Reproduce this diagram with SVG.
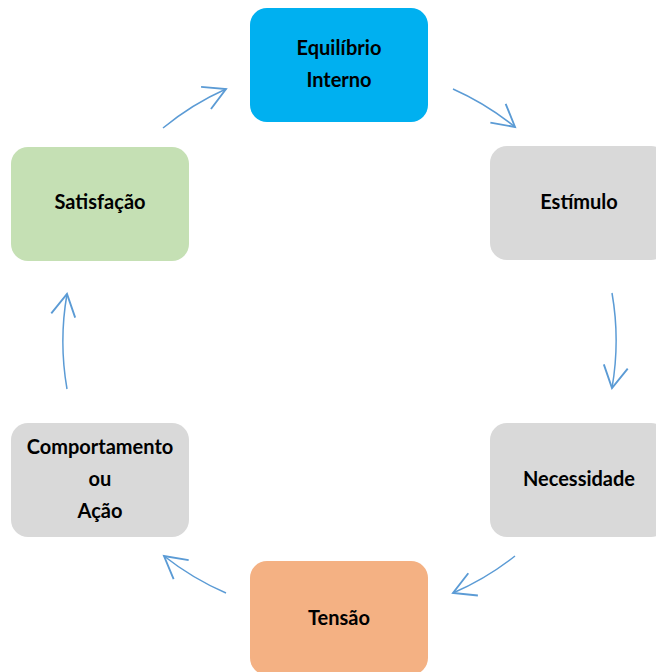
<svg xmlns="http://www.w3.org/2000/svg" width="656" height="672" viewBox="0 0 656 672">
<style>
.box{stroke:none}
.lbl{font-family:Lato,"Liberation Sans",Arial,sans-serif;font-weight:bold;font-size:20px;fill:#000;text-anchor:middle}
.arr{fill:none;stroke:#5B9BD5;stroke-width:1.5;marker-end:url(#ah)}
</style>
<defs>
<marker id="ah" markerUnits="userSpaceOnUse" markerWidth="30" markerHeight="30" viewBox="-20 -12 22 24" refX="0" refY="0" orient="auto" overflow="visible">
<path d="M -17.5 -9.7 L 0 0 L -17.5 9.7" fill="none" stroke="#5B9BD5" stroke-width="1.5"/>
</marker>
</defs>
<rect width="656" height="672" fill="#fff"/>
<g id="connectors">
<path class="arr" d="M 163 128 A 276 276 0 0 1 226 89"/>
<path class="arr" d="M 453 89 A 276 276 0 0 1 515 127"/>
<path class="arr" d="M 612 293 A 276 276 0 0 1 612 388"/>
<path class="arr" d="M 515 556 A 276 276 0 0 1 453 593"/>
<path class="arr" d="M 226 593 A 276 276 0 0 1 164 556"/>
<path class="arr" d="M 67 389 A 276 276 0 0 1 67 294"/>
</g>
<g id="equilibrio">
<rect class="box" x="250" y="8" width="178" height="114" rx="17" fill="#00B0F0"/>
<text class="lbl" x="339" y="55">Equilíbrio</text>
<text class="lbl" x="339" y="87">Interno</text>
</g>
<g id="estimulo">
<rect class="box" x="490" y="146" width="178" height="114" rx="17" fill="#D9D9D9"/>
<text class="lbl" x="579" y="209">Estímulo</text>
</g>
<g id="necessidade">
<rect class="box" x="490" y="423" width="178" height="114" rx="17" fill="#D9D9D9"/>
<text class="lbl" x="579" y="486">Necessidade</text>
</g>
<g id="tensao">
<rect class="box" x="250" y="561" width="178" height="114" rx="17" fill="#F4B183"/>
<text class="lbl" x="339" y="625">Tensão</text>
</g>
<g id="comportamento">
<rect class="box" x="11" y="423" width="178" height="114" rx="17" fill="#D9D9D9"/>
<text class="lbl" x="100" y="454">Comportamento</text>
<text class="lbl" x="100" y="486">ou</text>
<text class="lbl" x="100" y="518">Ação</text>
</g>
<g id="satisfacao">
<rect class="box" x="11" y="147" width="178" height="114" rx="17" fill="#C5E0B4"/>
<text class="lbl" x="100" y="209">Satisfação</text>
</g>
</svg>
